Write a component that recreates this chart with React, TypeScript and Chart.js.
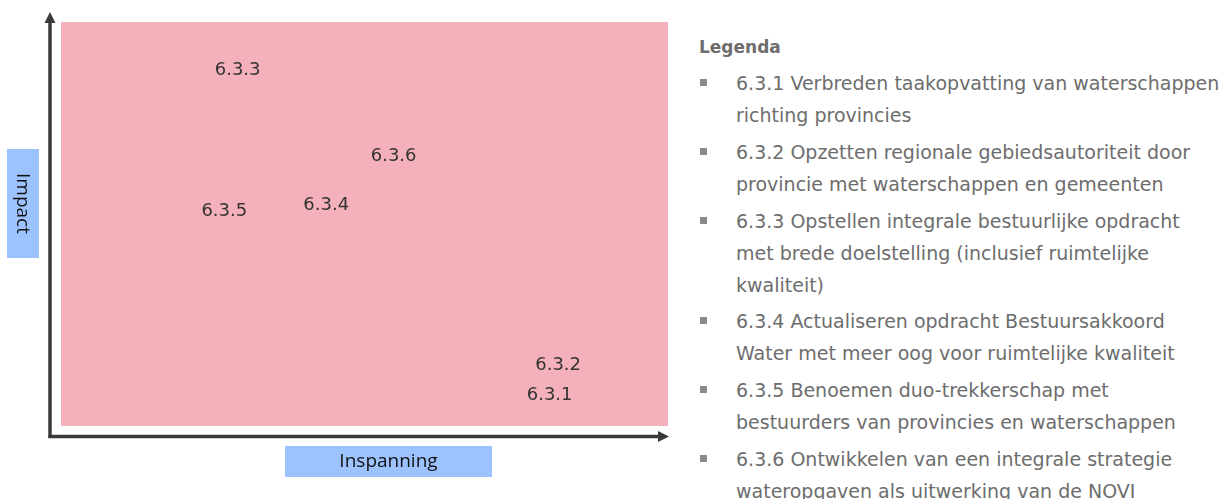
import React, { useEffect, useRef } from "react";
import { Chart, registerables } from "chart.js";

Chart.register(...registerables);

// ---- data ----
const codes = ["6.3.1", "6.3.2", "6.3.3", "6.3.4", "6.3.5", "6.3.6"];
const effort = [8.05, 8.19, 2.91, 4.37, 2.69, 5.48]; // Inspanning (x)
const impact = [0.78, 1.53, 8.82, 5.48, 5.33, 6.7]; // Impact (y)
const xTitle = "Inspanning";
const yTitle = "Impact";
const legendTitle = "Legenda";
const legendItems = [
  ["6.3.1 Verbreden taakopvatting van waterschappen", "richting provincies"],
  ["6.3.2 Opzetten regionale gebiedsautoriteit door", "provincie met waterschappen en gemeenten"],
  ["6.3.3 Opstellen integrale bestuurlijke opdracht", "met brede doelstelling (inclusief ruimtelijke", "kwaliteit)"],
  ["6.3.4 Actualiseren opdracht Bestuursakkoord", "Water met meer oog voor ruimtelijke kwaliteit"],
  ["6.3.5 Benoemen duo-trekkerschap met", "bestuurders van provincies en waterschappen"],
  ["6.3.6 Ontwikkelen van een integrale strategie", "wateropgaven als uitwerking van de NOVI"],
];

const PINK = "#F4B1BB";
const AXIS = "#3a3a3a";
const BOX = "#9DC3FF";

const decorPlugin = {
  id: "decor",
  beforeDatasetsDraw(chart: any) {
    const { ctx, chartArea: a } = chart;
    ctx.save();
    ctx.fillStyle = PINK;
    ctx.fillRect(a.left, a.top, a.right - a.left, a.bottom - a.top);
    ctx.restore();
  },
  afterDraw(chart: any) {
    const { ctx, chartArea: a } = chart;
    ctx.save();
    const ax = a.left - 11; // y-axis x
    const ay = a.bottom + 10.5; // x-axis y
    ctx.strokeStyle = AXIS;
    ctx.fillStyle = AXIS;
    ctx.lineWidth = 3.5;
    ctx.beginPath();
    ctx.moveTo(ax, ay + 1.5);
    ctx.lineTo(ax, a.top - 1);
    ctx.stroke();
    ctx.beginPath();
    ctx.moveTo(ax - 1.5, ay);
    ctx.lineTo(a.right - 8, ay);
    ctx.stroke();
    // arrowheads
    ctx.beginPath();
    ctx.moveTo(ax, a.top - 10);
    ctx.lineTo(ax - 5.5, a.top + 1);
    ctx.lineTo(ax + 5.5, a.top + 1);
    ctx.closePath();
    ctx.fill();
    ctx.beginPath();
    ctx.moveTo(a.right + 1, ay);
    ctx.lineTo(a.right - 10, ay - 5.5);
    ctx.lineTo(a.right - 10, ay + 5.5);
    ctx.closePath();
    ctx.fill();

    // axis title boxes
    ctx.fillStyle = BOX;
    ctx.fillRect(7, 149, 32, 109);
    ctx.fillRect(285, 446, 207, 31);
    ctx.fillStyle = "#111";
    ctx.font = "19px 'Open Sans'";
    ctx.textAlign = "center";
    ctx.textBaseline = "middle";
    ctx.fillText(xTitle, 388.5, 461.5);
    ctx.save();
    ctx.translate(23, 203.5);
    ctx.rotate(Math.PI / 2);
    ctx.fillText(yTitle, 0, 1);
    ctx.restore();

    // point labels
    const meta = chart.getDatasetMeta(0);
    ctx.fillStyle = "#333";
    ctx.font = "18px 'DejaVu Sans'";
    meta.data.forEach((el: any, i: number) => {
      ctx.fillText(codes[i], el.x, el.y + 1);
    });
    ctx.restore();
  },
};

export default function App() {
  const ref = useRef<HTMLCanvasElement>(null);
  useEffect(() => {
    if (!ref.current) return;
    const chart = new Chart(ref.current, {
      type: "scatter",
      data: {
        datasets: [
          {
            label: "Maatregelen",
            data: effort.map((x, i) => ({ x, y: impact[i] })),
            pointRadius: 0,
            pointHoverRadius: 0,
          },
        ],
      },
      options: {
        animation: false,
        responsive: false,
        maintainAspectRatio: false,
        layout: { padding: { left: 61, right: 12, top: 22, bottom: 73 } },
        plugins: { legend: { display: false }, tooltip: { enabled: false } },
        scales: {
          x: { type: "linear", min: 0, max: 10, display: false },
          y: { type: "linear", min: 0, max: 10, display: false },
        },
      },
      plugins: [decorPlugin],
    });
    return () => chart.destroy();
  }, []);

  return (
    <div
      style={{
        position: "fixed",
        left: 0,
        top: 0,
        width: 1224,
        height: 499,
        overflow: "hidden",
        background: "#fff",
      }}
    >
      <canvas ref={ref} width={680} height={499} style={{ position: "absolute", left: 0, top: 0, width: 680, height: 499 }} />
      <div
        style={{
          position: "absolute",
          left: 700,
          top: 31,
          width: 560,
          fontFamily: "'DejaVu Sans', sans-serif",
          fontSize: 19,
          lineHeight: "32px",
          color: "#6d6d6d",
          whiteSpace: "nowrap",
        }}
      >
        <div style={{ fontWeight: "bold", fontSize: 17, marginLeft: -1 }}>{legendTitle}</div>
        {legendItems.map((lines, i) => (
          <div key={i} style={{ position: "relative", marginTop: i === 0 ? 4 : 4.8, paddingLeft: 36 }}>
            <span
              style={{
                position: "absolute",
                left: 0,
                top: 12,
                width: 7,
                height: 7,
                background: "#8a8a8a",
              }}
            />
            {lines.map((l, j) => (
              <div key={j}>{l}</div>
            ))}
          </div>
        ))}
      </div>
    </div>
  );
}
